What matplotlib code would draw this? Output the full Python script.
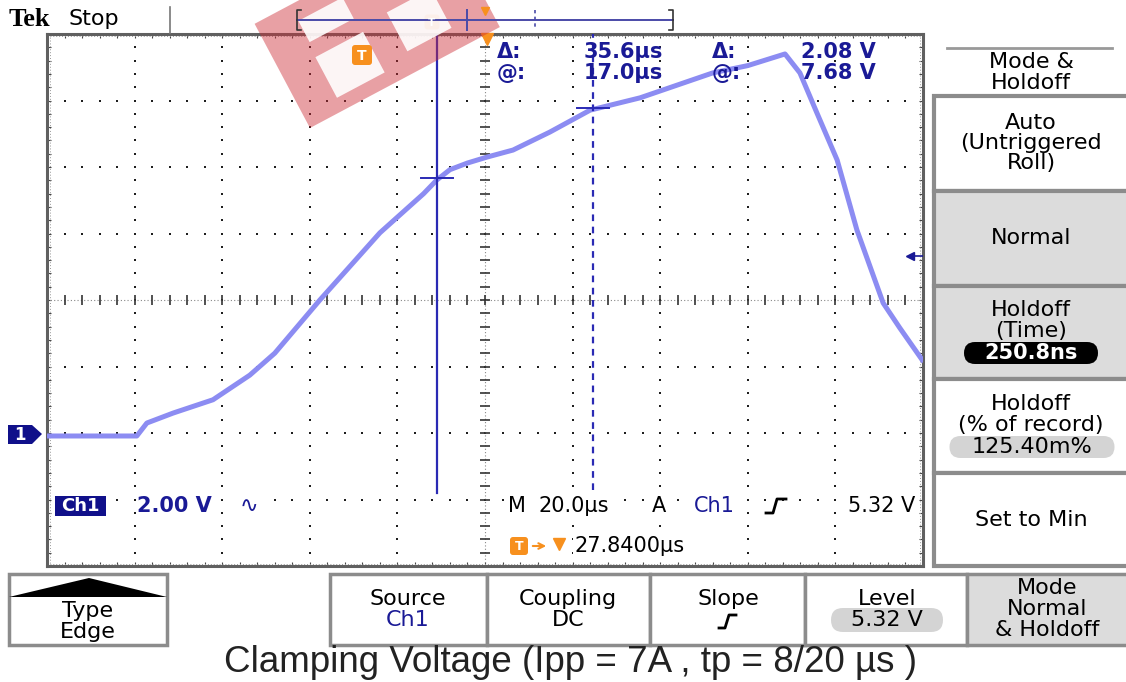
import matplotlib.pyplot as plt
from matplotlib.patches import Rectangle, Polygon, FancyBboxPatch
import numpy as np

# trace: 20 us/div, 2 V/div, ch1 ground two divisions below centre
t_us = [0, 20.5, 22.8, 28.8, 37.9, 46.3, 52.0, 62.3, 76.0, 86.0, 89.0, 92.0, 96.0,
        100.5, 106.4, 114.8, 124.0, 135.4, 152.0, 160.0, 168.5, 171.9, 175.8,
        180.4, 184.9, 190.9, 194.7, 199.8]
volts = [-0.09, -0.09, 0.30, 0.60, 1.00, 1.74, 2.40, 4.00, 6.02, 7.20, 7.61, 7.92, 8.12,
         8.30, 8.51, 9.05, 9.71, 10.08, 10.83, 11.05, 11.40, 10.83, 9.62,
         8.21, 6.11, 3.91, 3.16, 2.20]

cursor_t = [89.0, 124.6]
cursor_v = [7.68, 9.76]
trig_level = 5.32

readout_dt = ["35.6\u00b5s", "17.0\u00b5s"]
readout_dv = ["2.08 V", "7.68 V"]

NAVY = '#1a1a96'
CUR = '#2a2ab4'
ORANGE = '#f7901e'
GREYBOX = '#dcdcdc'
EDGE = '#8c8c8c'
FS = 16
WB = dict(fc='white', ec='none', pad=1)

fig = plt.figure(figsize=(11.26, 6.82), dpi=100)

# ---- graticule -------------------------------------------------------------
ax = fig.add_axes([47 / 1126, 1 - 566 / 682, 876 / 1126, 532 / 682])
ax.set_xlim(0, 200)
ax.set_ylim(-4, 12)
ax.set_xticks(np.arange(0, 200.1, 4))
ax.set_yticks(np.arange(-4, 12.01, 0.4))
ax.tick_params(direction='in', length=3, width=0.8, color='#444444',
               top=True, right=True, labelbottom=False, labelleft=False)
for s in ax.spines.values():
    s.set_color('#606060')
    s.set_linewidth(2.2)

xmaj = np.arange(20, 181, 20)
ymaj = np.arange(-2, 10.1, 2)
yminor = np.arange(-4, 12.01, 0.4)
xminor = np.arange(0, 200.1, 4)
for x in xmaj:
    if x != 100:
        ax.plot(np.full(len(yminor), x), yminor, ls='none', marker='s', ms=1.5,
                color='#1e1e1e', mew=0)
for y in ymaj:
    if y != 4:
        ax.plot(xminor, np.full(len(xminor), y), ls='none', marker='s', ms=1.5,
                color='#1e1e1e', mew=0)
# centre cross
ax.axvline(100, color='#888888', lw=0.8, ls=(0, (1, 2)))
ax.axhline(4, color='#888888', lw=0.8, ls=(0, (1, 2)))
ax.plot(np.full(len(yminor), 100), yminor, ls='none', marker='_', ms=7, mew=1.2, color='#333333')
ax.plot(xminor, np.full(len(xminor), 4), ls='none', marker='|', ms=7, mew=1.2, color='#333333')
# inner dotted frame
for x in (0.6, 199.4):
    ax.axvline(x, color='#999999', lw=0.7, ls=(0, (1, 2)))
for y in (-3.95, 11.95):
    ax.axhline(y, color='#999999', lw=0.7, ls=(0, (1, 2)))

# waveform
ax.plot(t_us, volts, color='#8c8cf2', lw=3.6, solid_joinstyle='round', zorder=5)

# cursors
ax.plot([cursor_t[0], cursor_t[0]], [-1.8, 12], color=CUR, lw=1.6, zorder=6)
ax.plot([cursor_t[1], cursor_t[1]], [-1.7, 12], color=CUR, lw=1.6, ls=(0, (3, 2.5)), zorder=6)
for t, v in zip(cursor_t, cursor_v):
    ax.plot([t - 3.6, t + 3.6], [v, v], color=CUR, lw=1.4, zorder=6)

# trigger level marker on the right edge
ax.plot([197.0, 200], [trig_level, trig_level], color=NAVY, lw=1.2, zorder=6)
ax.plot([197.0], [trig_level], marker='<', ms=6, color=NAVY, zorder=6)
ax.plot([100.5], [11.85], marker='v', ms=8, color=ORANGE, clip_on=False, zorder=7)

# ---- overlay in screen pixels ---------------------------------------------
ov = fig.add_axes([0, 0, 1, 1], zorder=10)
ov.set_xlim(0, 1126)
ov.set_ylim(682, 0)
ov.axis('off')


def rbox(x0, y0, x1, y1, fc, ec=EDGE, lw=2.5):
    ov.add_patch(Rectangle((x0, y0), x1 - x0, y1 - y0, fc=fc, ec=ec, lw=lw))


def pill(xc, yc, w, h, fc):
    ov.add_patch(FancyBboxPatch((xc - w / 2, yc - h / 2), w, h,
                                boxstyle='round,pad=0,rounding_size=%g' % (h / 2),
                                fc=fc, ec='none'))


def tbox(xc, yc, size):
    ov.add_patch(FancyBboxPatch((xc - size / 2, yc - size / 2), size, size,
                                boxstyle='round,pad=0,rounding_size=3', fc=ORANGE, ec='none'))
    ov.text(xc, yc + 0.5, 'T', color='white', fontsize=size * 0.5, fontweight='bold',
            ha='center', va='center')


# header
ov.text(9, 19, 'Tek', family='Liberation Serif', fontweight='bold', fontsize=19, va='center')
ov.text(68, 19, 'Stop', fontsize=16, va='center')
ov.plot([170, 170], [7, 33], color='#777777', lw=1.2)
ov.plot([297, 673], [20, 20], color='#4a4aa8', lw=1.4)
ov.plot([301, 297, 297, 301], [10, 10, 30, 30], color='#333333', lw=1.2)
ov.plot([669, 673, 673, 669], [10, 10, 30, 30], color='#333333', lw=1.2)
ov.plot([467, 467], [10, 30], color='#4a4aa8', lw=1.4)
ov.plot([535, 535], [10, 30], color='#4a4aa8', lw=1.2, ls=(0, (2, 2)))
ov.plot([485], [11], marker='v', ms=6, color=ORANGE)
tbox(432, 22, 15)

# watermark
th = np.radians(28)
u = np.array([np.cos(th), -np.sin(th)])
v = np.array([-np.sin(th), -np.cos(th)])
p0 = np.array([310, 128])


def rot(a0, b0, a1, b1):
    return [p0 + a0 * u + b0 * v, p0 + a1 * u + b0 * v, p0 + a1 * u + b1 * v, p0 + a0 * u + b1 * v]


ov.add_patch(Polygon(rot(0, 0, 215, 118), closed=True, fc='#cd2d37', alpha=0.45, ec='none'))
for a0, b0, a1, b1 in [(38, 14, 92, 60), (122, 22, 172, 66), (40, 76, 90, 100)]:
    ov.add_patch(Polygon(rot(a0, b0, a1, b1), closed=True, fc='white', alpha=0.9, ec='none'))
tbox(362, 55, 20)

# cursor readouts
for i, lab in enumerate(['\u0394:', '@:']):
    y = 52 + 21 * i
    ov.text(497, y, lab, color=NAVY, fontsize=15, fontweight='bold', va='center')
    ov.text(663, y, readout_dt[i], color=NAVY, fontsize=15, fontweight='bold', va='center', ha='right')
    ov.text(712, y, lab, color=NAVY, fontsize=15, fontweight='bold', va='center')
    ov.text(876, y, readout_dv[i], color=NAVY, fontsize=15, fontweight='bold', va='center', ha='right')

# channel ground marker
ov.add_patch(Polygon([(8, 425), (32, 425), (42, 434), (32, 444), (8, 444)], fc='#10108a', ec='none'))
ov.text(20, 435, '1', color='white', fontsize=12, fontweight='bold', ha='center', va='center')

# bottom readouts inside graticule
ov.add_patch(Rectangle((55, 496), 51, 20, fc='#10108a', ec='none'))
ov.text(80, 506, 'Ch1', color='white', fontsize=13, fontweight='bold', ha='center', va='center')
ov.text(137, 506, '2.00 V', color=NAVY, fontsize=15, fontweight='bold', va='center', bbox=WB)
ov.text(240, 506, '\u223f', color=NAVY, fontsize=16, va='center', bbox=WB)
ov.text(508, 506, 'M', color='black', fontsize=15, va='center', bbox=WB)
ov.text(538, 506, '20.0\u00b5s', color='black', fontsize=15, va='center', bbox=WB)
ov.text(652, 506, 'A', color='black', fontsize=15, va='center', bbox=WB)
ov.text(694, 506, 'Ch1', color=NAVY, fontsize=15, va='center', bbox=WB)
ov.plot([766, 773, 777, 786], [513, 513, 499, 499], color='black', lw=2)
ov.text(915, 506, '5.32 V', color='black', fontsize=15, va='center', ha='right', bbox=WB)
tbox(519, 546, 18)
ov.annotate('', xy=(549, 546), xytext=(530, 546),
            arrowprops=dict(arrowstyle='->', color=ORANGE, lw=1.5))
ov.plot([559], [544], marker='v', ms=9, color=ORANGE)
ov.text(574, 546, '27.8400\u00b5s', color='black', fontsize=15, va='center', bbox=WB)

# right side menu
ov.plot([947, 1112], [48, 48], color='#999999', lw=2)
ov.text(1031, 62, 'Mode &', fontsize=FS, ha='center', va='center')
ov.text(1031, 83, 'Holdoff', fontsize=FS, ha='center', va='center')
side_boxes = [(96, 191, 'white'), (191, 286, GREYBOX), (286, 379, GREYBOX),
              (379, 473, 'white'), (473, 566, 'white')]
for y0, y1, fc in side_boxes:
    rbox(934, y0, 1130, y1, fc, lw=3)
for y, s in [(123, 'Auto'), (143, '(Untriggered'), (163, 'Roll)'), (238, 'Normal'),
             (310, 'Holdoff'), (331, '(Time)'), (404, 'Holdoff'), (425, '(% of record)'),
             (520, 'Set to Min')]:
    ov.text(1031, y, s, fontsize=FS, ha='center', va='center')
pill(1031, 353, 134, 22, 'black')
ov.text(1031, 353, '250.8ns', color='white', fontsize=15, fontweight='bold', ha='center', va='center')
pill(1032, 447, 165, 22, '#d4d4d4')
ov.text(1032, 447, '125.40m%', fontsize=FS, ha='center', va='center')

# bottom menu
rbox(9, 574, 167, 645, 'white')
ov.add_patch(Polygon([(9, 597), (89, 578), (167, 597)], fc='black', ec='none'))
ov.text(88, 611, 'Type', fontsize=FS, ha='center', va='center')
ov.text(88, 632, 'Edge', fontsize=FS, ha='center', va='center')
bottom_boxes = [(330, 487, 'white'), (487, 650, 'white'), (650, 805, 'white'),
                (805, 967, 'white'), (967, 1130, GREYBOX)]
for x0, x1, fc in bottom_boxes:
    rbox(x0, 574, x1, 645, fc)
ov.text(408, 599, 'Source', fontsize=FS, ha='center', va='center')
ov.text(408, 620, 'Ch1', fontsize=FS, color=NAVY, ha='center', va='center')
ov.text(568, 599, 'Coupling', fontsize=FS, ha='center', va='center')
ov.text(568, 620, 'DC', fontsize=FS, ha='center', va='center')
ov.text(728, 599, 'Slope', fontsize=FS, ha='center', va='center')
ov.plot([719, 725, 729, 736], [628, 628, 615, 615], color='black', lw=2)
ov.text(887, 599, 'Level', fontsize=FS, ha='center', va='center')
pill(887, 620, 112, 24, '#d4d4d4')
ov.text(887, 620, '5.32 V', fontsize=FS, ha='center', va='center')
ov.text(1047, 588, 'Mode', fontsize=FS, ha='center', va='center')
ov.text(1047, 609, 'Normal', fontsize=FS, ha='center', va='center')
ov.text(1047, 630, '& Holdoff', fontsize=FS, ha='center', va='center')

ov.text(570, 663, 'Clamping Voltage (Ipp = 7A , tp = 8/20 \u00b5s )', family='Liberation Sans',
        fontsize=26.5, color='#222222', ha='center', va='center')

fig.savefig('out.png', dpi=100, facecolor='white')
